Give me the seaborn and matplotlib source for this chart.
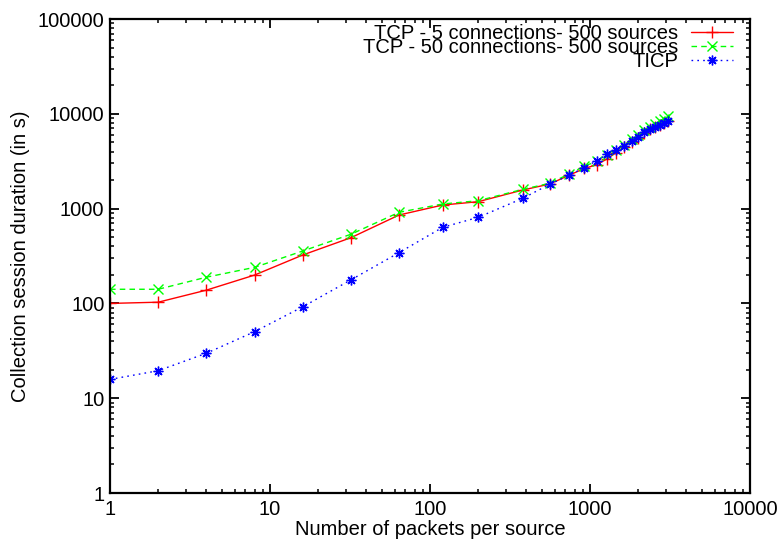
import matplotlib
matplotlib.use('Agg')
import matplotlib.pyplot as plt
from matplotlib.ticker import LogLocator, FuncFormatter, NullFormatter
import seaborn as sns

# valeurs
packets = [1, 2, 4, 8, 16, 32, 64, 120, 200, 380, 560, 740, 920, 1100, 1280,
           1460, 1640, 1820, 2000, 2180, 2360, 2540, 2720, 2900, 3080]
tcp5 = [100, 103, 138, 199, 324, 493, 856, 1091, 1183, 1571, 1817, 2250, 2650,
        2900, 3350, 3900, 4500, 5100, 5600, 6300, 6850, 7300, 7700, 8050, 8450]
tcp50 = [141, 141, 189, 240, 357, 536, 914, 1119, 1211, 1597, 1849, 2320, 2800,
         3150, 3650, 4200, 4700, 5400, 6000, 6700, 7300, 7900, 8400, 8900, 9400]
ticp = [15.8, 19.5, 29.8, 50.3, 92, 177, 343, 635, 809, 1284, 1805, 2250, 2700,
        3200, 3740, 4150, 4575, 5200, 5650, 6380, 6860, 7310, 7680, 8060, 8460]

labels = ['TCP - 5 connections- 500 sources',
          'TCP - 50 connections- 500 sources',
          'TICP']

FS = 14.5

sns.set_style('ticks')
plt.rcParams['font.family'] = ['Liberation Sans', 'DejaVu Sans']
plt.rcParams['font.size'] = FS
plt.rcParams['text.color'] = 'black'
plt.rcParams['axes.labelcolor'] = 'black'
plt.rcParams['xtick.color'] = 'black'
plt.rcParams['ytick.color'] = 'black'

fig = plt.figure(figsize=(7.82, 5.40), dpi=100)
ax = fig.add_axes([0.1407, 0.0870, 0.8184, 0.8778])

sns.lineplot(x=packets, y=tcp5, ax=ax, color='#ff0000', lw=1,
             marker='+', markersize=8, mec='#ff0000', mew=1, label=labels[0])
sns.lineplot(x=packets, y=tcp50, ax=ax, color='#00ff00', lw=1,
             linestyle=(0, (4, 3)), marker='x', markersize=7,
             mec='#00ff00', mew=1, label=labels[1])
sns.lineplot(x=packets, y=ticp, ax=ax, color='#0000ff', lw=1,
             linestyle=(0, (1.2, 3)), marker=(8, 2, 0), markersize=7,
             mec='#0000ff', mew=1, label=labels[2])

ax.set_xscale('log')
ax.set_yscale('log')
ax.set_xlim(1, 10000)
ax.set_ylim(1, 100000)

fmt = FuncFormatter(lambda v, p: '%d' % round(v))
for axis in (ax.xaxis, ax.yaxis):
    axis.set_major_locator(LogLocator(base=10))
    axis.set_minor_locator(LogLocator(base=10, subs=range(2, 10)))
    axis.set_major_formatter(fmt)
    axis.set_minor_formatter(NullFormatter())

ax.tick_params(which='both', direction='in', top=True, right=True, colors='black')
ax.tick_params(which='major', length=6.5, width=1.3)
ax.tick_params(which='minor', length=3.2, width=1.1)
ax.tick_params(axis='x', pad=5, labelsize=FS)
ax.tick_params(axis='y', pad=4, labelsize=FS)
for s in ax.spines.values():
    s.set_linewidth(1.6)
    s.set_color('black')
    s.set_visible(True)

ax.set_xlabel('Number of packets per source', fontsize=FS, labelpad=1)
ax.set_ylabel('Collection session duration (in s)', fontsize=FS)
ax.yaxis.set_label_coords(-0.125, 0.5)

leg = ax.legend(loc='upper right', bbox_to_anchor=(0.9734, 0.989), frameon=False,
                markerfirst=False, labelspacing=-0.25, handlelength=2.1,
                handletextpad=0.6, borderaxespad=0, borderpad=0, fontsize=FS)
for t in leg.get_texts():
    t.set_color('black')

plt.savefig('out.png', dpi=100)
